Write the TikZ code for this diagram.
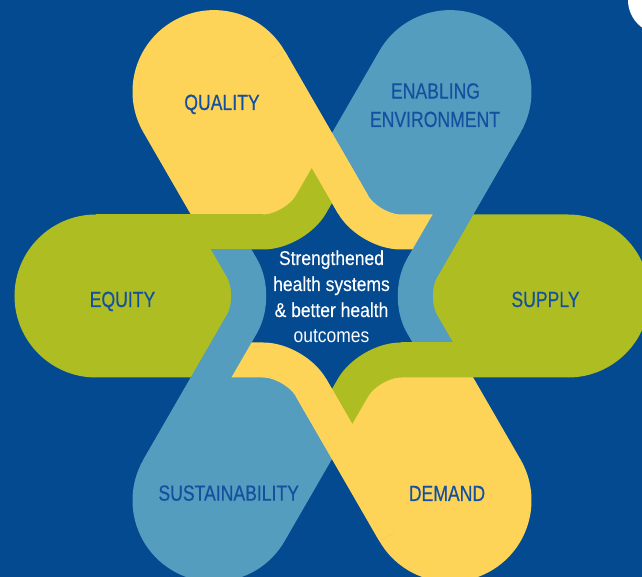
\documentclass[tikz,border=0pt]{standalone}
\usepackage{fontspec}
\newfontfamily\labelfont[FakeStretch=0.8,FakeBold=0.4]{Liberation Sans}
\newfontfamily\centerfont[FakeStretch=0.874,FakeBold=0.2]{Liberation Sans}
\newfontfamily\centerlight[FakeStretch=0.874]{Liberation Sans}
\definecolor{bgblue}{HTML}{034A91}
\definecolor{ayellow}{HTML}{FED458}
\definecolor{ablue}{HTML}{549DBE}
\definecolor{agreen}{HTML}{ADBD22}
\definecolor{labelblue}{HTML}{1450A0}
\begin{document}
\begin{tikzpicture}[x=1pt,y=1pt,
  band/.style={draw=#1, line width=35pt, line cap=butt},
  lbl/.style={text=labelblue, font=\labelfont\fontsize{22}{28}\selectfont, inner sep=0pt, anchor=base},
  ctr/.style={text=white, font=\centerfont\fontsize{20}{26}\selectfont, inner sep=0pt, anchor=base}]
\useasboundingbox (-332,-281) rectangle (310,296);
\clip (-332,-281) rectangle (310,296);
\fill[bgblue] (-332,-281) rectangle (310,296);
% lobes
\foreach \a/\c in {0/agreen,60/ablue,120/ayellow,180/agreen,240/ablue,300/ayellow}{
  \fill[\c, rotate=\a] (73.90,0) -- (110.85,-64) -- (236,-64) -- (236,-81.5)
     arc[start angle=-90,end angle=90,radius=81.5pt] -- (120.96,81.5) -- cycle;
}
% full bands
\foreach \a/\c in {0/agreen,60/ablue,120/ayellow,180/agreen,240/ablue,300/ayellow}{
  \draw[band=\c, rotate=\a, rounded corners=32pt] (236,-64) -- (36.95,-64) -- (0,-128);
}
% band 1 parts on top
\foreach \a/\c in {0/agreen,60/ablue,120/ayellow,180/agreen,240/ablue,300/ayellow}{
  \draw[band=\c, rotate=\a] (236,-64) -- (68.95,-64);
}
% white corner
\fill[white] (330,296) circle[radius=34pt];
% labels
\node[lbl] (quality) at (-110,186) {QUALITY};
\node[lbl] (enabling) at (103.5,197.4) {ENABLING};
\node[lbl] (environment) at (103,169) {ENVIRONMENT};
\node[lbl] (equity) at (-209.5,-11) {EQUITY};
\node[lbl] (supply) at (213.5,-11) {SUPPLY};
\node[lbl] (sustain) at (-103.3,-204.7) {SUSTAINABILITY};
\node[lbl] (demand) at (115,-205) {DEMAND};
% centre text
\node[ctr] (c1) at (-0.5,31) {Strengthened};
\node[ctr] (c2) at (-0.5,5) {health systems};
\node[ctr] (c3) at (-0.5,-21) {\& better health};
\node[ctr, font=\centerlight\fontsize{20}{26}\selectfont] (c4) at (-0.5,-47) {outcomes};
\end{tikzpicture}
\end{document}
